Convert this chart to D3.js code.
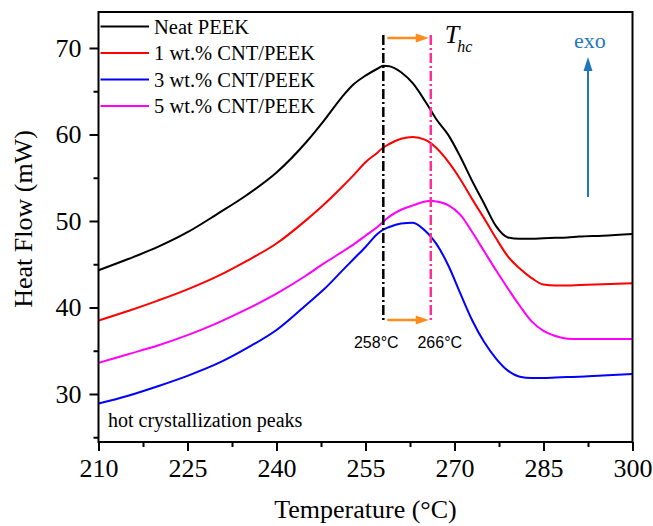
<!DOCTYPE html>
<html>
<head>
<meta charset="utf-8">
<script src="https://cdn.jsdelivr.net/npm/d3@7/dist/d3.min.js"></script>
<style>
  html, body { margin: 0; padding: 0; background: #fff; }
  svg { display: block; }
</style>
</head>
<body>
<svg id="chart" width="653" height="526"></svg>
<script>
// DSC cooling scans: temperature grid (°C) shared by every trace
const temperatures = [210, 215, 220, 225, 230, 235, 240, 245, 248, 251, 253, 255, 257, 258, 259, 261, 263, 265, 266, 267, 269, 271, 273, 275, 277, 279, 281, 283, 285, 287, 289, 291, 295, 300];

// Heat flow (mW) for each sample
const neatPeek = [44.3, 45.6, 47.0, 48.7, 50.8, 53.0, 55.6, 59.1, 61.6, 64.3, 65.8, 66.8, 67.6, 67.95, 67.9, 67.2, 65.9, 63.9, 62.8, 61.7, 59.9, 57.4, 54.6, 52.0, 49.4, 48.1, 47.95, 47.95, 48.0, 48.05, 48.1, 48.2, 48.3, 48.5];
const cnt1 = [38.5, 39.6, 40.8, 42.1, 43.6, 45.4, 47.4, 50.1, 51.9, 53.9, 55.3, 56.8, 57.9, 58.5, 58.9, 59.5, 59.7, 59.4, 59.0, 58.4, 56.8, 54.8, 52.5, 50.3, 48.0, 45.9, 44.5, 43.4, 42.65, 42.55, 42.55, 42.6, 42.7, 42.8];
const cnt3 = [28.9, 29.8, 30.9, 32.1, 33.5, 35.3, 37.4, 40.3, 42.1, 44.2, 45.6, 47.0, 48.5, 49.0, 49.3, 49.7, 49.8, 48.9, 48.2, 47.3, 44.8, 41.6, 38.5, 36.0, 34.1, 32.7, 32.0, 31.85, 31.85, 31.9, 31.95, 32.0, 32.15, 32.3];
const cnt5 = [33.6, 34.6, 35.6, 36.8, 38.2, 39.8, 41.6, 43.7, 45.1, 46.4, 47.3, 48.3, 49.3, 49.9, 50.5, 51.3, 51.8, 52.25, 52.35, 52.25, 51.8, 50.7, 48.7, 46.5, 44.3, 42.2, 40.2, 38.4, 37.3, 36.7, 36.4, 36.35, 36.35, 36.35];

const seriesNames = ["Neat PEEK", "1 wt.% CNT/PEEK", "3 wt.% CNT/PEEK", "5 wt.% CNT/PEEK"];
const seriesValues = [neatPeek, cnt1, cnt3, cnt5];
const seriesColors = ["#000000", "#ff0000", "#0000ff", "#ff00ff"];

// Axis ticks
const xTicks = [210, 225, 240, 255, 270, 285, 300];
const yTicks = [30, 40, 50, 60, 70];

// Hot crystallization peak temperatures (°C) and their labels
const peakTemps = [258, 266];
const peakLabels = ["258°C", "266°C"];
const peakColors = ["#000000", "#ff2d95"];

// ---- layout ----
const margin = { left: 98.5, right: 632.5, top: 12, bottom: 442 };
const serif = "'Liberation Serif', 'Times New Roman', serif";
const sans = "'Liberation Sans', Arial, sans-serif";
const orange = "#ff8c1a";
const exoBlue = "#1f78b8";

const svg = d3.select("#chart");

const x = d3.scaleLinear().domain([210, 300]).range([margin.left, margin.right]);
const y = d3.scaleLinear().domain([24.45, 74.16]).range([margin.bottom, margin.top]);

// minor ticks halfway between majors
const xMinor = d3.range(217.5, 300, 15);
const yMinor = d3.range(25, 75, 10);

// ---- axes ----
const xAxis = d3.axisBottom(x).tickValues(xTicks).tickSize(9).tickPadding(8).tickFormat(d3.format("d"));
const xAxisMinor = d3.axisBottom(x).tickValues(xMinor).tickSize(5).tickFormat("");
const yAxis = d3.axisLeft(y).tickValues(yTicks).tickSize(9).tickPadding(8).tickFormat(d3.format("d"));
const yAxisMinor = d3.axisLeft(y).tickValues(yMinor).tickSize(5).tickFormat("");

function styleAxis(g) {
  g.select(".domain").remove();
  g.selectAll(".tick line").attr("stroke", "#000").attr("stroke-width", 2);
  g.selectAll(".tick text")
    .attr("fill", "#000")
    .style("font-family", serif)
    .style("font-size", "26px");
}

svg.append("g").attr("transform", `translate(0,${margin.bottom})`).call(xAxis).call(styleAxis);
svg.append("g").attr("transform", `translate(0,${margin.bottom})`).call(xAxisMinor).call(styleAxis);
svg.append("g").attr("transform", `translate(${margin.left},0)`).call(yAxis).call(styleAxis);
svg.append("g").attr("transform", `translate(${margin.left},0)`).call(yAxisMinor).call(styleAxis);

// ---- curves ----
const line = d3.line()
  .x(d => x(d[0]))
  .y(d => y(d[1]))
  .curve(d3.curveMonotoneX);

const curves = svg.append("g").attr("fill", "none").attr("stroke-width", 2).attr("stroke-linejoin", "round");
seriesValues.forEach((vals, i) => {
  curves.append("path")
    .datum(temperatures.map((t, j) => [t, vals[j]]))
    .attr("stroke", seriesColors[i])
    .attr("d", line);
});

// ---- peak markers ----
const markerTop = 35, markerBottom = 323;
const labelShift = [-7, 9];
peakTemps.forEach((t, i) => {
  svg.append("line")
    .attr("x1", x(t)).attr("x2", x(t))
    .attr("y1", markerTop).attr("y2", markerBottom)
    .attr("stroke", peakColors[i])
    .attr("stroke-width", 2.5)
    .attr("stroke-dasharray", "10,3,2,3");
  svg.append("text")
    .attr("x", x(t) + labelShift[i])
    .attr("y", 348)
    .attr("text-anchor", "middle")
    .style("font-family", sans)
    .style("font-size", "16px")
    .text(peakLabels[i]);
});

// orange shift arrows between the two peaks
function hArrow(x0, x1, yy, color) {
  svg.append("line")
    .attr("x1", x0).attr("x2", x1 - 10)
    .attr("y1", yy).attr("y2", yy)
    .attr("stroke", color).attr("stroke-width", 2.5);
  svg.append("path")
    .attr("d", `M${x1},${yy} L${x1 - 13},${yy - 4.5} L${x1 - 13},${yy + 4.5} Z`)
    .attr("fill", color);
}
hArrow(x(peakTemps[0]) + 4, x(peakTemps[1]) - 2, 38, orange);
hArrow(x(peakTemps[0]) + 4, x(peakTemps[1]) - 2, 320, orange);

// T_hc label
const thc = svg.append("text")
  .attr("x", x(peakTemps[1]) + 14)
  .attr("y", 43)
  .style("font-family", serif)
  .style("font-style", "italic")
  .style("font-size", "26px");
thc.append("tspan").text("T");
thc.append("tspan").attr("dy", 9).attr("dx", -2).style("font-size", "16px").text("hc");

// exo direction arrow
const exoX = 588;
svg.append("line")
  .attr("x1", exoX).attr("x2", exoX)
  .attr("y1", 197).attr("y2", 68)
  .attr("stroke", exoBlue).attr("stroke-width", 2);
svg.append("path")
  .attr("d", `M${exoX},57 L${exoX - 4.5},71 L${exoX + 4.5},71 Z`)
  .attr("fill", exoBlue);
svg.append("text")
  .attr("x", 590)
  .attr("y", 48)
  .attr("text-anchor", "middle")
  .attr("fill", exoBlue)
  .style("font-family", serif)
  .style("font-size", "22px")
  .text("exo");

// ---- legend ----
const legend = svg.append("g");
seriesNames.forEach((name, i) => {
  const ly = 26.5 + i * 26.5;
  legend.append("line")
    .attr("x1", 100.5).attr("x2", 149)
    .attr("y1", ly).attr("y2", ly)
    .attr("stroke", seriesColors[i]).attr("stroke-width", 2);
  legend.append("text")
    .attr("x", 154)
    .attr("y", ly + 7)
    .style("font-family", serif)
    .style("font-size", "20.5px")
    .text(name);
});

// note inside the plot
svg.append("text")
  .attr("x", 108)
  .attr("y", 427)
  .style("font-family", serif)
  .style("font-size", "20px")
  .text("hot crystallization peaks");

// ---- frame ----
svg.append("rect")
  .attr("x", margin.left).attr("y", margin.top)
  .attr("width", margin.right - margin.left)
  .attr("height", margin.bottom - margin.top)
  .attr("fill", "none")
  .attr("stroke", "#000")
  .attr("stroke-width", 2);

// ---- axis titles ----
svg.append("text")
  .attr("x", (margin.left + margin.right) / 2)
  .attr("y", 518)
  .attr("text-anchor", "middle")
  .style("font-family", serif)
  .style("font-size", "26px")
  .text("Temperature (°C)");

svg.append("text")
  .attr("transform", "translate(32,219) rotate(-90)")
  .attr("text-anchor", "middle")
  .style("font-family", serif)
  .style("font-size", "26px")
  .text("Heat Flow (mW)");
</script>
</body>
</html>
